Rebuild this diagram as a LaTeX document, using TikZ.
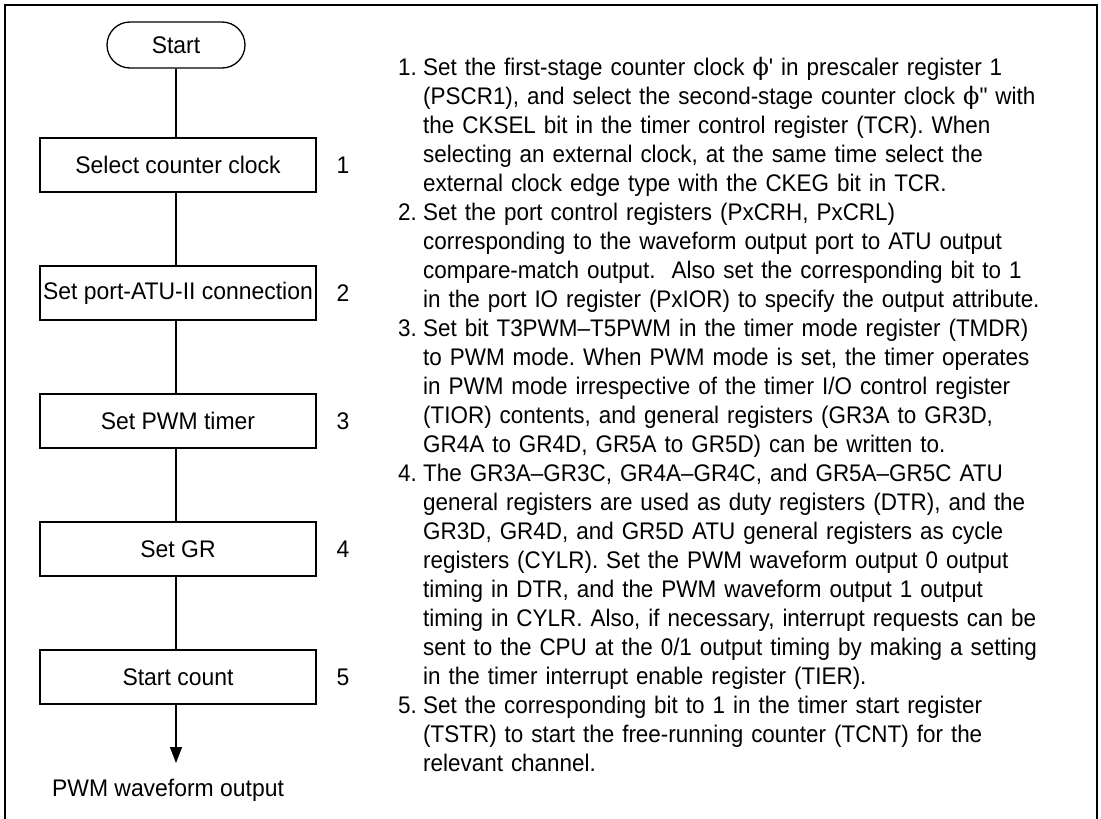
\documentclass[tikz,border=0pt]{standalone}
\usepackage{fontspec}
\setmainfont{Liberation Sans}
\newfontfamily\flowfamily{Liberation Sans}[FakeStretch=0.955, Ligatures=TeX]
\newfontfamily\notefamily{Liberation Sans}[FakeStretch=0.935, Ligatures=TeX]
\newfontfamily\phifont{DejaVu Serif}
\newfontfamily\rawfont{Liberation Sans}[FakeStretch=0.935]
\usetikzlibrary{arrows.meta, positioning, shapes.misc}

\newcommand{\flowfont}{\flowfamily\fontsize{24}{29}\selectfont}
\newcommand{\notefont}{\notefamily\fontsize{24}{29}\selectfont\frenchspacing}
\newcommand{\phiprime}{{\phifont ϕ}{\rawfont '}}
\newcommand{\phidprime}{{\phifont ϕ}{\rawfont "}}

\begin{document}
\begin{tikzpicture}[x=1pt, y=-1pt,
  stepbox/.style={draw, line width=1.3pt, minimum width=276pt,
    minimum height=54pt, inner sep=0pt, font=\flowfont},
  termbox/.style={draw, rounded rectangle, line width=1.3pt,
    minimum width=138pt, minimum height=46pt, inner sep=0pt, font=\flowfont},
  label/.style={inner sep=0pt, font=\flowfont},
  notenum/.style={anchor=base west, inner sep=0pt, font=\notefont},
  notetext/.style={anchor=base west, inner sep=0pt, text width=680pt,
    align=left, font=\notefont},
  flow/.style={line width=1.3pt},
  arrow/.style={line width=1.3pt, -{Triangle[length=16pt, width=12pt]}},
]
\useasboundingbox (0,0) rectangle (1101,819);
\draw[line width=2pt] (4.5,820) -- (4.5,4.5) -- (1097,4.5) -- (1097,820);

% flow chart
\node[termbox] (start) at (176,45) {Start};
\node[stepbox] (clk) at (178,165) {Select counter clock};
\node[stepbox] (port) at (178,293) {Set port-ATU-II connection};
\node[stepbox] (pwm) at (178,421) {Set PWM timer};
\node[stepbox] (gr) at (178,549) {Set GR};
\node[stepbox] (cnt) at (178,677) {Start count};
\node[label, anchor=north] (out) at (168,779) {PWM waveform output};

\node[label] (n1) at (343,165) {1};
\node[label] (n2) at (343,293) {2};
\node[label] (n3) at (343,421) {3};
\node[label] (n4) at (343,549) {4};
\node[label] (n5) at (343,677) {5};

\draw[flow] (start.south -| 176,0) -- (clk.north -| 176,0);
\draw[flow] (clk.south -| 176,0) -- (port.north -| 176,0);
\draw[flow] (port.south -| 176,0) -- (pwm.north -| 176,0);
\draw[flow] (pwm.south -| 176,0) -- (gr.north -| 176,0);
\draw[flow] (gr.south -| 176,0) -- (cnt.north -| 176,0);
\draw[arrow, shorten >=16pt] (cnt.south -| 176,0) -- (out.north -| 176,0);

% notes
\node[notenum] (d1) at (398,75) {1.};
\node[notetext] (t1) at (423,75) {Set the first-stage counter clock \phiprime{} in prescaler register 1\\
(PSCR1), and select the second-stage counter clock \phidprime{} with\\
the CKSEL bit in the timer control register (TCR). When\\
selecting an external clock, at the same time select the\\
external clock edge type with the CKEG bit in TCR.};

\node[notenum] (d2) at (398,220) {2.};
\node[notetext] (t2) at (423,220) {Set the port control registers (PxCRH, PxCRL)\\
corresponding to the waveform output port to ATU output\\
compare-match output.\ \ Also set the corresponding bit to 1\\
in the port IO register (PxIOR) to specify the output attribute.};

\node[notenum] (d3) at (398,336) {3.};
\node[notetext] (t3) at (423,336) {Set bit T3PWM–T5PWM in the timer mode register (TMDR)\\
to PWM mode. When PWM mode is set, the timer operates\\
in PWM mode irrespective of the timer I/O control register\\
(TIOR) contents, and general registers (GR3A to GR3D,\\
GR4A to GR4D, GR5A to GR5D) can be written to.};

\node[notenum] (d4) at (398,481) {4.};
\node[notetext] (t4) at (423,481) {The GR3A–GR3C, GR4A–GR4C, and GR5A–GR5C ATU\\
general registers are used as duty registers (DTR), and the\\
GR3D, GR4D, and GR5D ATU general registers as cycle\\
registers (CYLR). Set the PWM waveform output 0 output\\
timing in DTR, and the PWM waveform output 1 output\\
timing in CYLR. Also, if necessary, interrupt requests can be\\
sent to the CPU at the 0/1 output timing by making a setting\\
in the timer interrupt enable register (TIER).};

\node[notenum] (d5) at (398,713) {5.};
\node[notetext] (t5) at (423,713) {Set the corresponding bit to 1 in the timer start register\\
(TSTR) to start the free-running counter (TCNT) for the\\
relevant channel.};
\end{tikzpicture}
\end{document}
